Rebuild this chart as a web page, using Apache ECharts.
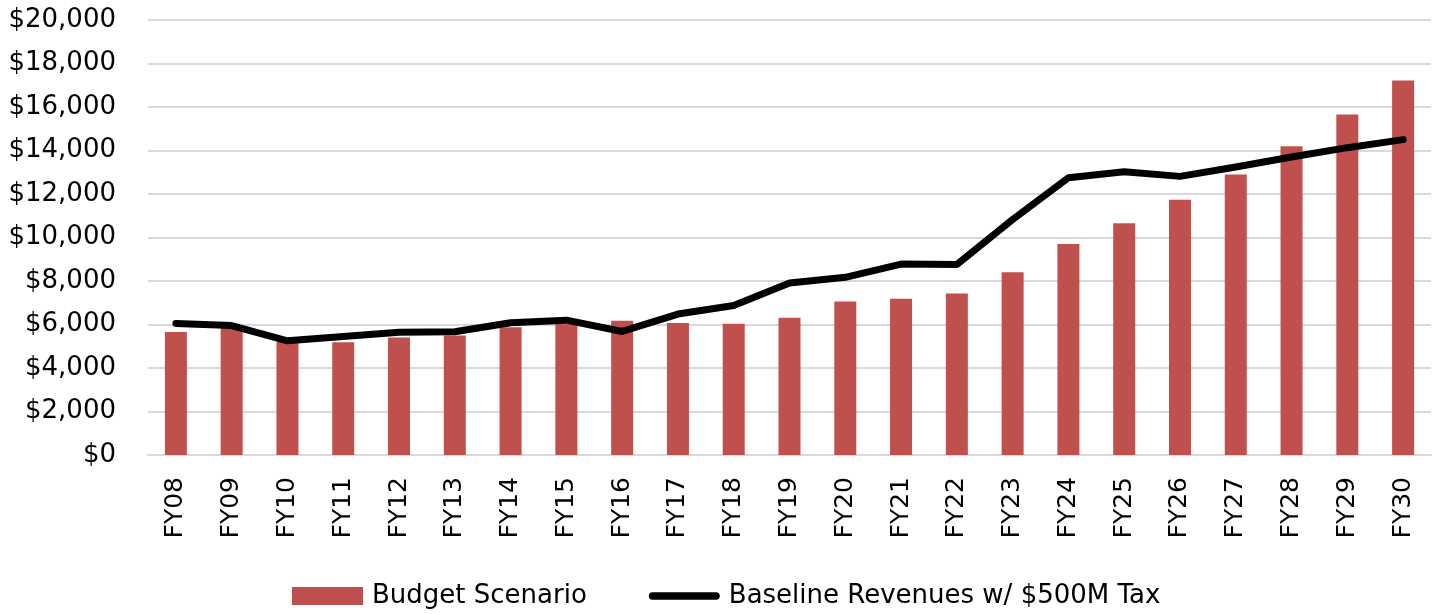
<!DOCTYPE html>
<html>
<head>
<meta charset="utf-8" />
<title>Budget Scenario</title>
<style>
html, body { margin: 0; padding: 0; background: #fff; }
#chart { width: 1439px; height: 614px; }
</style>
</head>
<body>
<div id="chart"></div>
<script src="https://cdn.jsdelivr.net/npm/echarts@6/dist/echarts.min.js"></script>
<script>
// categories
var years = ['FY08','FY09','FY10','FY11','FY12','FY13','FY14','FY15','FY16','FY17','FY18','FY19',
  'FY20','FY21','FY22','FY23','FY24','FY25','FY26','FY27','FY28','FY29','FY30'];

// bars
var budget = [5650, 5900, 5200, 5180, 5400, 5500, 5870, 6020, 6170, 6070, 6040, 6310,
  7060, 7180, 7420, 8400, 9700, 10660, 11730, 12900, 14200, 15660, 17220];

// black line
var baseline = [6050, 5950, 5250, 5450, 5640, 5670, 6080, 6200, 5680, 6480, 6870, 7910,
  8170, 8780, 8760, 10830, 12750, 13020, 12810, 13240, 13700, 14130, 14500];

var font = 'DejaVu Sans';

var chart = echarts.init(document.getElementById('chart'));
chart.setOption({
  animation: false,
  textStyle: { fontFamily: font },
  grid: { left: 148, right: 8, top: 20, bottom: 159 },
  legend: {
    top: 578,
    left: 287,
    itemWidth: 71,
    itemHeight: 18,
    itemGap: 62,
    textStyle: { fontSize: 26, color: '#000', fontFamily: font, padding: [0, 0, 0, 4] },
    data: [
      { name: 'Budget Scenario', icon: 'rect' },
      // pill shaped line icon, no marker dot
      { name: 'Baseline Revenues w/ $500M Tax', icon: 'path://M4,0 L71,0 A4,4 0 0 1 71,8 L4,8 A4,4 0 0 1 4,0 Z' }
    ]
  },
  xAxis: {
    type: 'category',
    data: years,
    axisTick: { show: false },
    axisLine: { lineStyle: { color: '#d9d9d9', width: 2 } },
    axisLabel: { rotate: 90, color: '#000', fontSize: 25, margin: 22, fontFamily: font }
  },
  yAxis: {
    type: 'value',
    min: 0,
    max: 20000,
    interval: 2000,
    axisLine: { show: false },
    axisTick: { show: false },
    splitLine: { lineStyle: { color: '#d9d9d9', width: 2 } },
    axisLabel: {
      color: '#000',
      fontSize: 26,
      margin: 32,
      fontFamily: font,
      formatter: function (v) { return '$' + v.toLocaleString('en-US'); }
    }
  },
  series: [
    {
      name: 'Budget Scenario',
      type: 'bar',
      data: budget,
      barWidth: 22,
      itemStyle: { color: '#c0504d' }
    },
    {
      name: 'Baseline Revenues w/ $500M Tax',
      type: 'line',
      data: baseline,
      symbol: 'none',
      lineStyle: { color: '#000', width: 7, cap: 'round', join: 'round' },
      itemStyle: { color: '#000' }
    }
  ]
});
</script>
</body>
</html>
